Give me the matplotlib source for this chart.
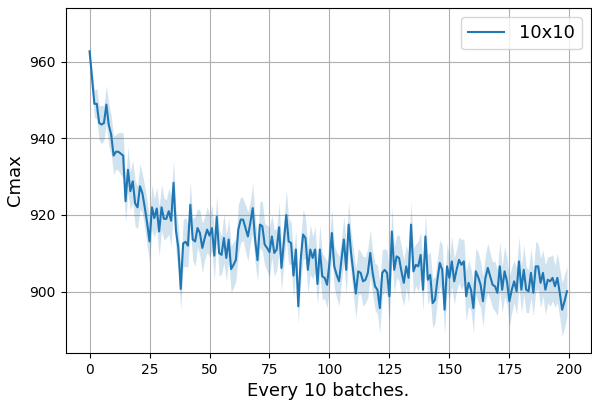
import numpy as np
import matplotlib
matplotlib.use('Agg')
import matplotlib.pyplot as plt

# mean Cmax per checkpoint
cmax = [
    962.7, 956.0, 949.0, 949.0, 944.0, 943.6, 944.0, 948.8, 943.5, 941.0,
    935.5, 936.5, 936.5, 936.0, 935.5, 923.6, 931.8, 926.2, 928.8, 923.0,
    922.0, 927.5, 925.7, 922.0, 917.9, 913.1, 922.0, 919.2, 921.7, 915.7,
    922.0, 919.0, 919.0, 921.0, 918.5, 928.4, 916.0, 911.4, 900.7, 912.6,
    913.0, 912.0, 922.7, 913.6, 913.1, 916.6, 915.3, 911.4, 914.0, 916.2,
    914.6, 916.6, 909.4, 919.5, 910.1, 909.6, 914.0, 908.8, 913.6, 905.9,
    907.0, 908.3, 916.2, 918.8, 918.8, 916.6, 914.4, 917.9, 921.8, 913.6,
    908.2, 917.5, 917.1, 912.3, 911.4, 910.3, 914.4, 910.1, 911.0, 916.8,
    906.2, 913.1, 920.0, 913.1, 912.7, 904.2, 911.0, 896.2, 908.3, 914.9,
    914.0, 905.7, 911.0, 908.8, 911.0, 902.0, 911.0, 904.0, 903.6, 901.8,
    907.5, 915.3, 906.6, 904.4, 902.7, 908.3, 913.6, 905.7, 917.5, 910.1,
    904.9, 899.5, 905.3, 904.9, 902.7, 903.1, 904.9, 910.1, 904.9, 901.4,
    900.5, 895.7, 904.9, 905.7, 904.9, 898.8, 915.7, 905.7, 909.2, 908.8,
    905.3, 902.3, 906.6, 903.6, 917.5, 905.3, 907.0, 906.6, 909.6, 900.5,
    914.4, 903.1, 904.4, 897.0, 897.9, 903.1, 907.5, 905.7, 895.3, 906.6,
    903.6, 907.9, 902.7, 905.7, 908.3, 907.0, 907.9, 898.8, 902.3, 900.5,
    895.7, 905.3, 903.8, 901.8, 897.5, 903.5, 906.2, 904.0, 901.8, 901.4,
    899.7, 906.6, 900.5, 905.3, 902.7, 897.5, 900.5, 902.7, 900.1, 907.9,
    900.5, 905.7, 900.5, 900.1, 904.9, 899.7, 906.6, 906.6, 902.3, 904.9,
    900.5, 903.1, 902.7, 903.6, 901.4, 903.6, 899.7, 895.3, 897.5, 900.1,
]

# half width of the shaded band
spread = [
    1.5, 2.5, 3.5, 4.0, 4.5, 5.0, 4.5, 5.0, 5.5, 5.0,
    5.0, 4.5, 5.0, 5.5, 6.0, 5.5, 6.0, 5.0, 5.5, 6.0,
    5.5, 6.0, 5.0, 5.5, 6.0, 5.5, 6.0, 5.0, 5.5, 6.5,
    6.0, 5.5, 5.0, 6.0, 6.5, 6.0, 5.5, 6.0, 5.5, 6.0,
    6.5, 5.5, 6.0, 5.5, 6.5, 5.0, 6.0, 6.5, 5.5, 6.0,
    5.5, 6.0, 6.5, 5.5, 6.0, 5.0, 6.5, 6.0, 5.5, 6.0,
    6.0, 5.5, 6.5, 6.0, 5.5, 6.0, 6.5, 5.5, 6.5, 6.0,
    5.5, 6.0, 6.5, 5.5, 6.0, 6.5, 5.5, 6.0, 5.5, 6.5,
    6.0, 5.5, 6.5, 6.0, 5.5, 6.0, 5.0, 4.5, 6.0, 6.5,
    5.5, 6.0, 6.5, 5.5, 6.0, 5.5, 6.5, 6.0, 5.5, 6.0,
    6.5, 6.0, 5.5, 6.0, 6.5, 5.5, 6.0, 6.5, 6.0, 5.5,
    6.0, 6.5, 6.0, 5.5, 6.5, 6.0, 6.5, 6.0, 5.5, 6.0,
    6.5, 6.5, 6.0, 5.5, 6.0, 6.5, 6.5, 6.0, 5.5, 6.0,
    6.5, 6.0, 5.5, 6.5, 6.0, 6.0, 5.5, 6.5, 6.0, 5.5,
    6.0, 6.5, 6.0, 6.5, 6.0, 5.5, 6.0, 6.5, 6.5, 6.0,
    5.5, 6.5, 6.0, 5.5, 6.0, 6.5, 6.0, 6.5, 6.0, 5.5,
    6.5, 6.0, 6.5, 6.0, 6.5, 6.0, 6.5, 6.0, 6.0, 6.5,
    6.0, 6.5, 6.0, 6.5, 6.0, 6.5, 6.0, 5.5, 6.0, 6.5,
    6.0, 6.5, 6.0, 5.5, 6.5, 6.0, 6.5, 6.0, 6.5, 6.0,
    6.5, 6.0, 6.5, 6.0, 5.5, 6.5, 6.5, 7.0, 7.0, 6.5,
]

x = np.arange(len(cmax))
cmax = np.array(cmax)
spread = np.array(spread)

fig = plt.figure(figsize=(5.92, 4.0), dpi=100)
ax = fig.add_axes([0.111, 0.1175, 0.887, 0.8625])
ax.plot(x, cmax, color='#1f77b4', lw=1.5, label='10x10')
ax.fill_between(x, cmax - spread, cmax + spread, color='#1f77b4', alpha=0.2, lw=0)
ax.grid(True)
ax.set_axisbelow(True)
ax.set_xticks([0, 25, 50, 75, 100, 125, 150, 175, 200])
ax.set_yticks([900, 920, 940, 960])
ax.set_ylim(884, 974)
ax.set_xlabel('Every 10 batches.', fontsize=13)
ax.set_ylabel('Cmax', fontsize=13)
ax.legend(loc='upper right', fontsize=13)

plt.savefig('out.png', dpi=100)
